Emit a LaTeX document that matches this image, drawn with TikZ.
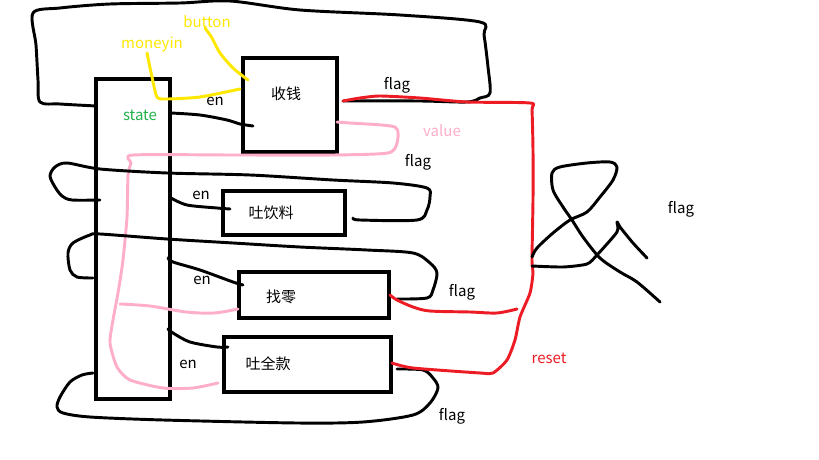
\documentclass[tikz,border=0pt]{standalone}
\usepackage{fontspec}
\setmainfont{Noto Sans CJK SC}
\definecolor{pyellow}{RGB}{255,232,0}
\definecolor{pgreen}{RGB}{34,177,76}
\definecolor{pred}{RGB}{237,28,36}
\definecolor{ppink}{RGB}{255,174,201}
\begin{document}
\begin{tikzpicture}[x=0.75pt,y=-0.75pt,
  box/.style={draw=black,line width=3.6pt,inner sep=0pt},
  lbl/.style={font=\fontsize{11.25}{13}\selectfont,inner sep=0pt},
  wire/.style={line width=2.2pt,line cap=round,line join=round}]
\useasboundingbox (0,0) rectangle (819,460);
\fill[white] (0,0) rectangle (819,460);

% boxes
\node[box,minimum width=55.5pt,minimum height=240pt] (state) at (133,239) {};
\node[box,minimum width=70.5pt,minimum height=70.5pt] (shou) at (290,105) {};
\node[box,minimum width=91.5pt,minimum height=33pt] (yin) at (284,213) {};
\node[box,minimum width=112.5pt,minimum height=34.5pt] (zhao) at (314,295) {};
\node[box,minimum width=125.25pt,minimum height=41.25pt] (quan) at (307.5,364.5) {};

% box texts
\node[lbl,text=pgreen] (tstate) at (140,115) {state};
\node[lbl] (tshou) at (286,94) {收钱};
\node[lbl] (tyin) at (271,213) {吐饮料};
\node[lbl] (tzhao) at (281,297) {找零};
\node[lbl] (tquan) at (268,364) {吐全款};

% labels
\node[lbl] (en1) at (215,101) {en};
\node[lbl] (en2) at (201,195) {en};
\node[lbl] (en3) at (202,280) {en};
\node[lbl] (en4) at (188,364) {en};
\node[lbl,text=pyellow] (lmoney) at (152,44) {moneyin};
\node[lbl,text=pyellow] (lbutton) at (207,22) {button};
\node[lbl] (f1) at (397,85) {flag};
\node[lbl] (f2) at (418,162) {flag};
\node[lbl] (f3) at (462,292) {flag};
\node[lbl] (f4) at (452,416) {flag};
\node[lbl] (f5) at (681,209) {flag};
\node[lbl,text=ppink] (lvalue) at (442,131) {value};
\node[lbl,text=pred] (lreset) at (549,358) {reset};

% top black loop
\draw[wire] plot[smooth,tension=0.5] coordinates {(96,106) (60,104) (40,102) (38,80) (36,45) (33,13) (60,8) (110,4) (180,3) (230,1) (300,10) (400,15) (480,22) (484,35) (488,67) (490,93) (480,98) (467,102) (420,101) (343,101)};

% yellow inputs
\draw[wire,pyellow] plot[smooth,tension=0.4] coordinates {(147,53) (152,77) (157,97) (167,99) (200,97) (240,89)};
\draw[wire,pyellow] plot[smooth,tension=0.5] coordinates {(205,28) (212,38) (220,53) (233,68) (248,80)};

% en lines
\draw[wire] plot[smooth,tension=0.5] coordinates {(171,113) (200,115) (227,120) (240,124) (253,126)};
\draw[wire] plot[smooth,tension=0.5] coordinates {(171,198) (187,205) (217,208) (230,209)};
\draw[wire] plot[smooth,tension=0.5] coordinates {(168,258) (173,262) (200,270) (233,282) (243,285)};
\draw[wire] plot[smooth,tension=0.5] coordinates {(168,329) (173,333) (190,342) (217,347) (228,347)};

% pink value line
\draw[wire,ppink] plot[smooth,tension=0.4] coordinates {(337,122) (350,123) (395,127) (397,143) (388,153) (333,155) (233,155) (133,155) (131,163) (128,175) (127,217) (123,260) (118,293) (113,320) (110,343) (117,367) (130,380) (163,388) (193,388) (218,383)};
\draw[wire,ppink] plot[smooth,tension=0.5] coordinates {(120,304) (150,306) (186,312) (214,313) (238,309)};

% loop 2 (吐饮料 flag)
\draw[wire] plot[smooth,tension=0.5] coordinates {(353,218) (360,220) (417,220) (427,210) (430,197) (427,188) (393,183) (333,180) (250,175) (167,173) (100,169) (67,163) (55,167) (50,176) (55,187) (62,196) (72,200) (100,200)};

% loop 3 (找零 flag)
\draw[wire] plot[smooth,tension=0.5] coordinates {(397,299) (427,298) (433,290) (437,273) (430,263) (413,253) (367,250) (300,247) (233,243) (167,239) (100,234) (90,235) (73,243) (68,253) (70,270) (77,277) (93,278)};

% bottom loop (吐全款 flag)
\draw[wire] plot[smooth,tension=0.5] coordinates {(397,369) (423,370) (433,378) (438,388) (430,403) (413,415) (363,422) (297,423) (163,420) (90,417) (63,413) (57,407) (60,397) (70,382) (82,375) (93,373)};

% red lines
\draw[wire,pred] plot[smooth,tension=0.4] coordinates {(343,101) (360,98) (380,96) (420,98) (467,102) (530,103) (532,110) (533,150) (533,200) (532,260) (533,273) (530,293) (520,317) (515,340) (507,360) (493,373) (480,373) (413,368) (392,363)};
\draw[wire,pred] plot[smooth,tension=0.5] coordinates {(390,295) (397,300) (413,307) (430,311) (470,312) (497,313) (517,309)};

% right scribble
\draw[wire] plot[smooth,tension=0.5] coordinates {(532,257) (537,248) (553,233) (570,220) (587,212) (600,197) (613,180) (617,167) (610,162) (587,163) (560,167) (552,173) (553,190) (563,207) (572,220) (583,237) (600,258) (620,272) (637,282) (660,302)};
\draw[wire] plot[smooth,tension=0.4] coordinates {(532,266) (563,267) (587,264) (597,255) (617,232) (617,222) (620,227) (633,243) (647,258)};
\end{tikzpicture}
\end{document}
